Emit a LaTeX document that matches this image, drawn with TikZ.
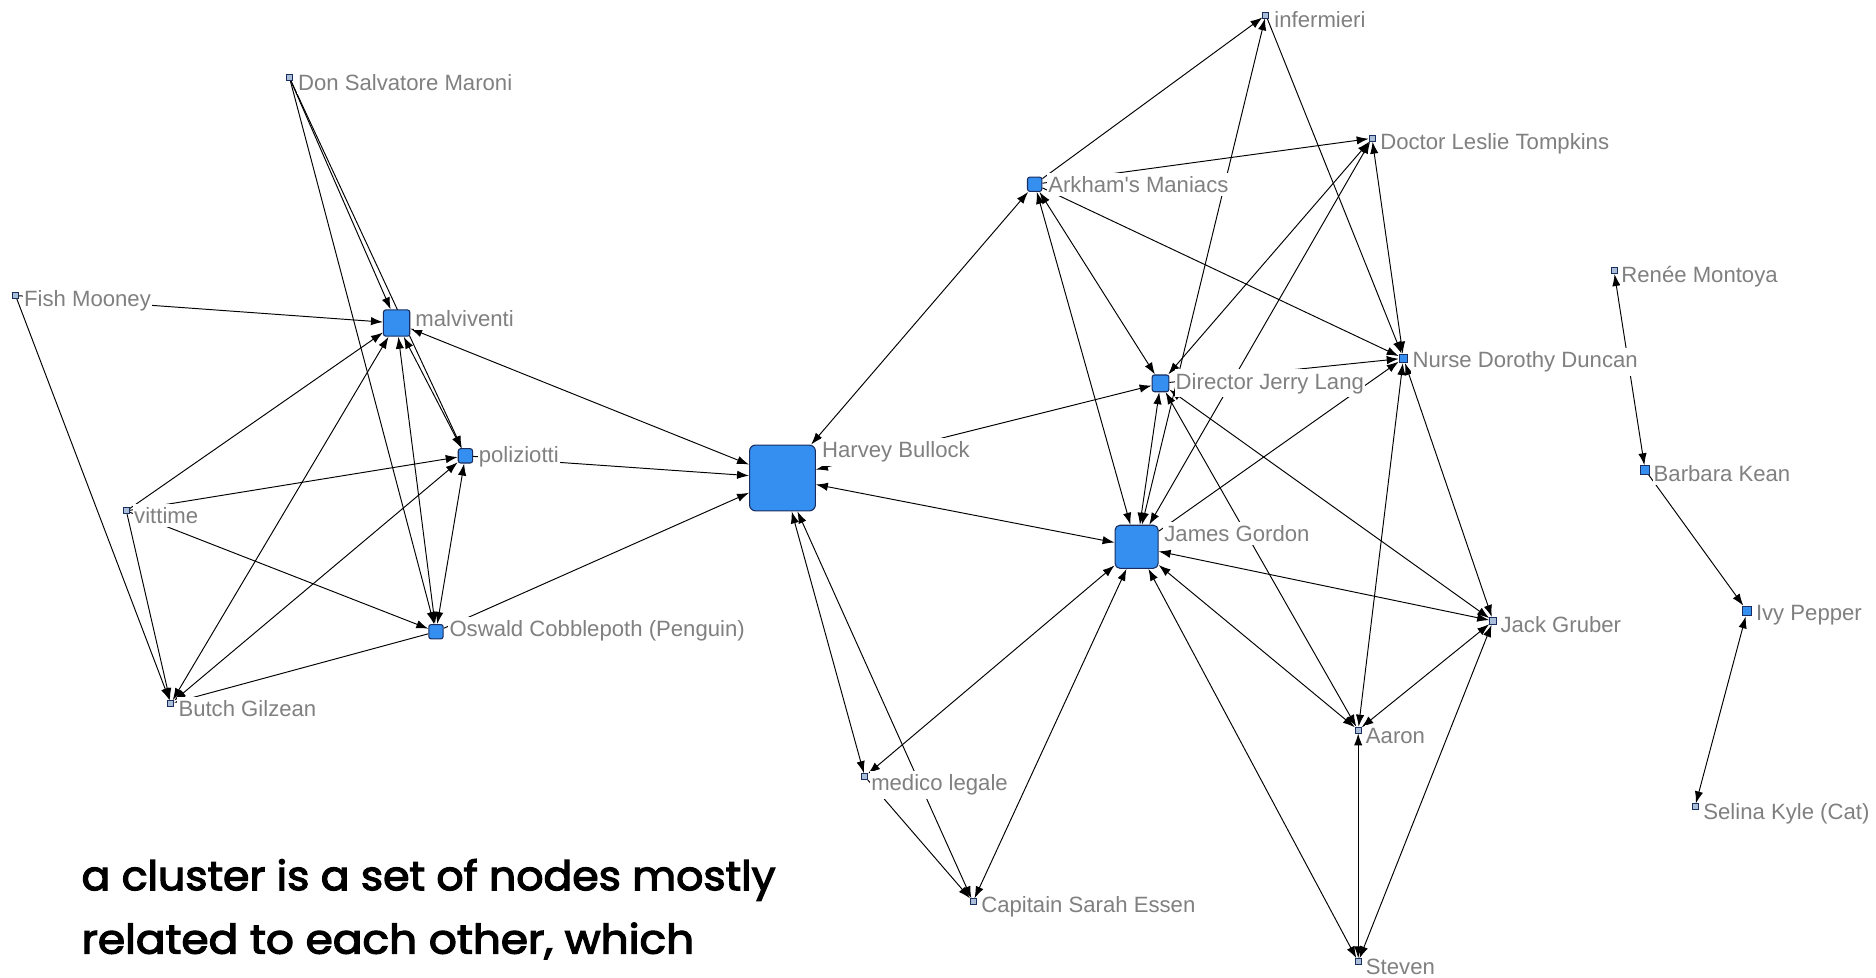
\documentclass[tikz,border=0pt]{standalone}
\usepackage{fontspec}
\usepackage{graphicx}
\usetikzlibrary{arrows.meta}
\newfontfamily\labfont{Liberation Sans}
\newfontfamily\notefont[FakeBold=3]{Poppins}
\definecolor{nodeblue}{RGB}{52,143,240}
\definecolor{nodeedge}{RGB}{25,45,95}
\definecolor{labgray}{RGB}{128,128,128}
\definecolor{minifill}{RGB}{170,190,215}
\pgfdeclarelayer{edges}
\pgfsetlayers{edges,main}
\begin{document}
\begin{tikzpicture}[x=1pt,y=-1pt,
  >={Latex[length=10pt,width=7pt]},
  edge/.style={draw=black,line width=0.8pt},
  sq/.style={draw=nodeedge,fill=nodeblue,line width=0.9pt,inner sep=0pt,minimum size=#1,rounded corners=2pt},
  minisq/.style={draw=nodeedge,fill=minifill,line width=0.7pt,inner sep=0pt,minimum size=5pt},
  lab/.style={anchor=west,fill=white,text=labgray,font=\labfont\fontsize{18.5}{20}\selectfont,inner xsep=1pt,inner ysep=3pt},
  note/.style={anchor=base west,inner sep=0pt,text=black}]
\useasboundingbox (0,0) rectangle (1568,816.6);
% nodes
\node[minisq] (don) at (242,65) {};
\node[minisq] (fish) at (13,247) {};
\node[sq=22pt] (malv) at (331.5,270) {};
\node[sq=12pt] (poli) at (389,381) {};
\node[minisq] (vitt) at (105.6,427) {};
\node[sq=12pt] (osw) at (364.4,528) {};
\node[minisq] (butch) at (142.7,588) {};
\node[sq=55pt,rounded corners=5pt] (harvey) at (654,399.5) {};
\node[minisq] (medico) at (722.8,649) {};
\node[minisq] (sarah) at (813.2,753.7) {};
\node[sq=12pt] (arkham) at (864.8,154) {};
\node[minisq] (inferm) at (1058,12.5) {};
\node[minisq] (doctor) at (1146.8,115.6) {};
\node[sq=14pt] (director) at (970,320.4) {};
\node[sq=36pt,rounded corners=4pt] (james) at (950,457) {};
\node[sq=7pt,rounded corners=0pt] (nurse) at (1173,299.5) {};
\node[minisq,minimum size=6pt] (jack) at (1248,519) {};
\node[minisq] (aaron) at (1135.2,610.2) {};
\node[minisq] (steven) at (1135.2,803.8) {};
\node[minisq] (renee) at (1349,226.2) {};
\node[sq=7pt,rounded corners=0pt] (barbara) at (1375,392.8) {};
\node[sq=8pt,rounded corners=0pt] (ivy) at (1460.3,510.7) {};
\node[minisq] (selina) at (1416.7,674.3) {};
% edges
\begin{pgfonlayer}{edges}
\draw[edge,->] (don) -- (malv);
\draw[edge,->] (don) -- (poli);
\draw[edge,->] (don) -- (osw);
\draw[edge,->] (fish) -- (malv);
\draw[edge,->] (fish) -- (butch);
\draw[edge,->] (vitt) -- (malv);
\draw[edge,->] (vitt) -- (poli);
\draw[edge,->] (vitt) -- (osw);
\draw[edge,->] (vitt) -- (butch);
\draw[edge,<->] (butch) -- (malv);
\draw[edge,<->] (butch) -- (poli);
\draw[edge,->] (osw) -- (butch);
\draw[edge,<->] (malv) -- (poli);
\draw[edge,<->] (malv) -- (osw);
\draw[edge,<->] (poli) -- (osw);
\draw[edge,<->] (malv) -- (harvey);
\draw[edge,->] (poli) -- (harvey);
\draw[edge,->] (osw) -- (harvey);
\draw[edge,<->] (harvey) -- (medico);
\draw[edge,<->] (harvey) -- (sarah);
\draw[edge,->] (medico) -- (sarah);
\draw[edge,<->] (james) -- (medico);
\draw[edge,<->] (sarah) -- (james);
\draw[edge,<->] (harvey) -- (james);
\draw[edge,<->] (harvey) -- (arkham);
\draw[edge,<->] (harvey) -- (director);
\draw[edge,->] (arkham) -- (inferm);
\draw[edge,->] (arkham) -- (doctor);
\draw[edge,->] (arkham) -- (nurse);
\draw[edge,<->] (arkham) -- (director);
\draw[edge,<->] (arkham) -- (james);
\draw[edge,<->] (inferm) -- (james);
\draw[edge,->] (inferm) -- (nurse);
\draw[edge,<->] (doctor) -- (director);
\draw[edge,<->] (doctor) -- (james);
\draw[edge,<->] (doctor) -- (nurse);
\draw[edge,<->] (director) -- (james);
\draw[edge,->] (director) -- (nurse);
\draw[edge,<->] (director) -- (jack);
\draw[edge,<->] (director) -- (aaron);
\draw[edge,->] (james) -- (nurse);
\draw[edge,<->] (james) -- (jack);
\draw[edge,<->] (james) -- (aaron);
\draw[edge,<->] (james) -- (steven);
\draw[edge,<->] (nurse) -- (jack);
\draw[edge,<->] (nurse) -- (aaron);
\draw[edge,<->] (jack) -- (aaron);
\draw[edge,<->] (jack) -- (steven);
\draw[edge,<->] (aaron) -- (steven);
\draw[edge,<->] (renee) -- (barbara);
\draw[edge,->] (barbara) -- (ivy);
\draw[edge,<->] (ivy) -- (selina);
\end{pgfonlayer}
% labels
\node[lab] (ldon) at (248,69) {Don Salvatore Maroni};
\node[lab] (lfish) at (19,251) {Fish Mooney};
\node[lab] (lmalv) at (346,266) {malviventi};
\node[lab] (lpoli) at (399,381.5) {poliziotti};
\node[lab] (lvitt) at (111,431) {vittime};
\node[lab] (losw) at (374.5,527.5) {Oswald Cobblepoth (Penguin)};
\node[lab] (lbutch) at (148,592) {Butch Gilzean};
\node[lab] (lharvey) at (686,377.5) {Harvey Bullock};
\node[lab] (lmedico) at (727,656) {medico legale};
\node[lab] (lsarah) at (819,758) {Capitain Sarah Essen};
\node[lab] (larkham) at (875,154) {Arkham's Maniacs};
\node[lab] (linferm) at (1064,16) {infermieri};
\node[lab] (ldoctor) at (1152.5,120.4) {Doctor Leslie Tompkins};
\node[lab] (ldirector) at (981.5,320.4) {Director Jerry Lang};
\node[lab] (ljames) at (972,445.8) {James Gordon};
\node[lab] (lnurse) at (1179.5,302.3) {Nurse Dorothy Duncan};
\node[lab] (ljack) at (1253,522.4) {Jack Gruber};
\node[lab] (laaron) at (1140.5,615) {Aaron};
\node[lab] (lsteven) at (1140.5,808) {Steven};
\node[lab] (lrenee) at (1354,231.3) {Renée Montoya};
\node[lab] (lbarbara) at (1381,395.5) {Barbara Kean};
\node[lab] (livy) at (1466.5,514) {Ivy Pepper};
\node[lab] (lselina) at (1422.5,679.8) {Selina Kyle (Cat)};
% caption
\node[note] (note1) at (68,744) {\resizebox{580pt}{\height}{\notefont\fontsize{34}{36}\selectfont a cluster is a set of nodes mostly}};
\node[note] (note2) at (68,797) {\resizebox{512pt}{\height}{\notefont\fontsize{34}{36}\selectfont related to each other, which}};
\end{tikzpicture}
\end{document}
